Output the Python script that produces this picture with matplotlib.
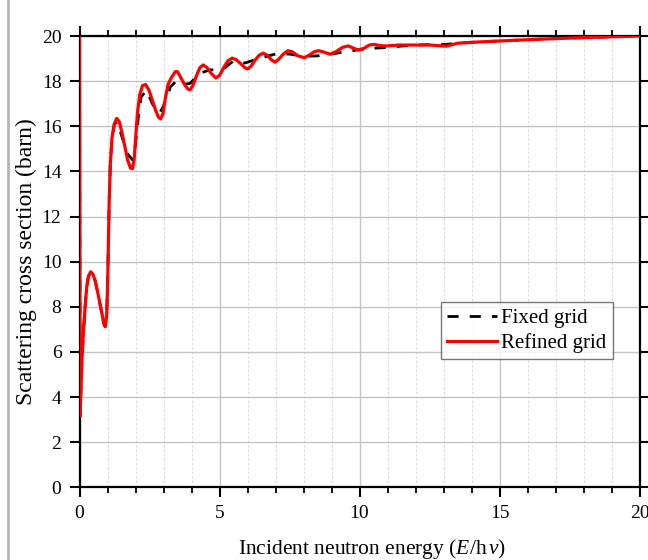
import matplotlib
matplotlib.use("Agg")
import matplotlib.pyplot as plt
from matplotlib.lines import Line2D
from matplotlib.ticker import MultipleLocator

# 산란 단면적 곡선 (refined grid)
energy_refined = [0.0, 0.02, 0.05, 0.09, 0.14, 0.2, 0.26, 0.32, 0.4, 0.48, 0.56, 0.64,
                  0.72, 0.8, 0.87, 0.92, 0.97, 1.0, 1.03, 1.06, 1.1, 1.16, 1.24, 1.33,
                  1.42, 1.52, 1.62, 1.72, 1.82, 1.89, 1.95, 2.0, 2.07, 2.15, 2.25, 2.36,
                  2.48, 2.6, 2.72, 2.82, 2.9, 2.98, 3.06, 3.16, 3.28, 3.42, 3.5, 3.62,
                  3.75, 3.87, 3.95, 4.05, 4.18, 4.3, 4.42, 4.55, 4.7, 4.87, 5.0, 5.15,
                  5.3, 5.45, 5.6, 5.75, 5.9, 6.0, 6.12, 6.28, 6.42, 6.56, 6.7, 6.85,
                  6.98, 7.1, 7.28, 7.44, 7.6, 7.8, 8.03, 8.2, 8.38, 8.53, 8.7, 8.95,
                  9.15, 9.4, 9.6, 9.8, 9.96, 10.15, 10.35, 10.52, 10.75, 10.97, 11.4,
                  11.9, 12.5, 13.1, 13.5, 14.0, 15.0, 16.45, 18.0, 20.0]
sigma_refined = [20.0, 3.15, 4.3, 5.7, 6.9, 8.0, 8.9, 9.35, 9.55, 9.45, 9.15, 8.7,
                 8.2, 7.7, 7.25, 7.12, 7.6, 8.8, 10.7, 12.7, 14.3, 15.5, 16.1, 16.35,
                 16.2, 15.7, 15.1, 14.5, 14.15, 14.12, 14.5, 15.4, 16.6, 17.4, 17.8, 17.85,
                 17.6, 17.15, 16.7, 16.4, 16.33, 16.55, 17.2, 17.85, 18.15, 18.42, 18.42, 18.15,
                 17.85, 17.65, 17.62, 17.8, 18.25, 18.6, 18.72, 18.6, 18.35, 18.14, 18.25, 18.6,
                 18.9, 19.02, 18.95, 18.78, 18.6, 18.54, 18.65, 18.95, 19.15, 19.24, 19.15, 18.95,
                 18.84, 18.95, 19.2, 19.35, 19.3, 19.12, 19.04, 19.15, 19.3, 19.35, 19.3, 19.19,
                 19.3, 19.5, 19.56, 19.45, 19.38, 19.45, 19.6, 19.63, 19.57, 19.56, 19.6,
                 19.6, 19.6, 19.55, 19.68, 19.72, 19.78, 19.86, 19.93, 20.0]

# 산란 단면적 곡선 (fixed grid)
energy_fixed = [0.0, 0.02, 0.05, 0.09, 0.14, 0.2, 0.26, 0.32, 0.4, 0.48, 0.56, 0.64,
                0.72, 0.8, 0.87, 0.92, 0.97, 1.0, 1.03, 1.06, 1.1, 1.16, 1.25, 1.35,
                1.5, 1.7, 1.9, 2.0, 2.1, 2.2, 2.4, 2.6, 2.85, 3.0, 3.25, 3.45, 3.7,
                3.95, 4.3, 4.65, 5.1, 5.5, 5.9, 6.45, 7.0, 7.5, 8.0, 8.5, 9.3, 9.9,
                10.45, 10.85, 11.9, 13.1, 13.5, 14.0, 15.0, 16.45, 18.0, 20.0]
sigma_fixed = [20.0, 3.15, 4.3, 5.7, 6.9, 8.0, 8.9, 9.35, 9.55, 9.45, 9.15, 8.7,
               8.2, 7.7, 7.25, 7.12, 7.6, 8.8, 10.7, 12.7, 14.3, 15.5, 16.1, 16.2,
               15.6, 14.8, 14.5, 15.2, 16.4, 17.3, 17.6, 17.0, 16.55, 16.9, 17.75, 18.0, 17.85,
               17.9, 18.35, 18.5, 18.5, 18.9, 18.8, 19.02, 19.2, 19.2, 19.1, 19.12, 19.26, 19.38,
               19.46, 19.48, 19.6, 19.63, 19.68, 19.72, 19.78, 19.86, 19.93, 20.0]

x_ticks = [0, 5, 10, 15, 20]
y_ticks = [0, 2, 4, 6, 8, 10, 12, 14, 16, 18, 20]

plt.rcParams['font.family'] = ['Liberation Serif', 'DejaVu Serif']
plt.rcParams['mathtext.fontset'] = 'custom'
plt.rcParams['mathtext.it'] = 'Liberation Serif:italic'
plt.rcParams['mathtext.rm'] = 'Liberation Serif'

fig = plt.figure(figsize=(6.48, 5.6), dpi=100)
ax = fig.add_axes([0.1227, 0.1298, 0.8642, 0.8059])

ax.plot(energy_fixed, sigma_fixed, color='black', lw=2.0, ls=(0, (4, 4)),
        label='Fixed grid', zorder=3)
ax.plot(energy_refined, sigma_refined, color='red', lw=2.3,
        label='Refined grid', zorder=4)

ax.set_xlim(0, 20)
ax.set_ylim(0, 20)
ax.set_xticks(x_ticks)
ax.set_yticks(y_ticks)
ax.xaxis.set_minor_locator(MultipleLocator(1))

ax.grid(which='major', color='#c4c4c4', lw=1.0, ls='-')
ax.grid(which='minor', axis='x', color='#d8d8d8', lw=0.8, ls=(0, (2, 2)))
ax.set_axisbelow(True)

for s in ax.spines.values():
    s.set_linewidth(1.6)
ax.tick_params(which='major', direction='out', length=7, width=1.5, labelsize=14,
               top=True, right=True, pad=6)
ax.tick_params(which='minor', direction='out', length=4, width=1.3, top=True)

ax.set_xlabel(r'Incident neutron energy ($E$/h$\,\nu$)', fontsize=15.5)
ax.set_ylabel('Scattering cross section (barn)', fontsize=17)
ax.xaxis.set_label_coords(0.523, -0.11)
ax.yaxis.set_label_coords(-0.076, 0.5)

leg = ax.legend(loc='upper right', bbox_to_anchor=(0.952, 0.41), fontsize=15,
                frameon=True, fancybox=False, handlelength=2.4, borderpad=0.3,
                labelspacing=0.25, handletextpad=0.2, borderaxespad=0)
leg.get_frame().set_edgecolor('#555555')
leg.get_frame().set_linewidth(1.0)

# 왼쪽 테두리 선
fig.add_artist(Line2D([0.013, 0.013], [0, 1], transform=fig.transFigure,
                      color='#b5b5b5', lw=2))

fig.savefig('out.png', dpi=100)
